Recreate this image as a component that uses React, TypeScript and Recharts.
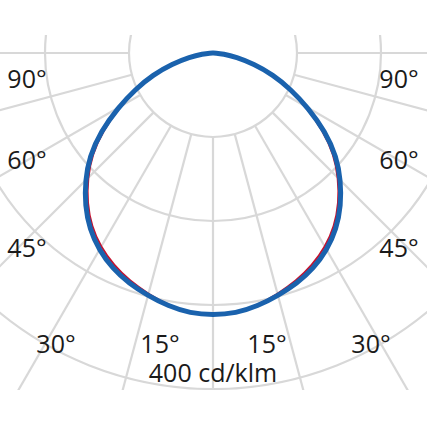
import { RadarChart, Radar, PolarGrid, PolarAngleAxis, PolarRadiusAxis, Curve } from 'recharts'

// gamma = angle from nadir (deg), one half plane, mirrored on both sides
const GAMMA = [0, 5, 10, 15, 20, 25, 30, 35, 40, 45, 50, 55, 60, 65, 70, 75, 80, 85, 90]
// cd/klm
const C0_C180 = [312, 311, 305, 297, 289, 279, 267, 252, 233, 211, 188, 159, 128, 99, 73, 48, 27, 11, 3]
const C90_C270 = [312, 311, 306, 299, 292, 283, 271, 256, 237, 215, 192, 163, 131, 102, 76, 50, 28, 12, 3]

const RINGS = [100, 200, 300, 400]
const GRID_GAMMA = [0, 15, 30, 45, 60, 75, 90]
const LEFT_LABELS = ['90°', '60°', '45°', '30°', '15°']
const RIGHT_LABELS = ['15°', '30°', '45°', '60°', '90°']
const UNIT_LABEL = '400 cd/klm'

const W = 427
const H = 427
const CX = 213
const CY = 53
const INNER_R = 84
const OUTER_R = 420
const R_MIN = 100
const R_MAX = 500
const PX = (OUTER_R - INNER_R) / (R_MAX - R_MIN)

// text positions (center x, baseline y)
const LEFT_POS = [[27, 88], [27, 169], [27, 257], [56, 353], [160, 353]]
const RIGHT_POS = [[267, 353], [371, 353], [399, 257], [399, 169], [399, 88]]

// full circle, 5deg steps: angle 0 = nadir, growing to the left
const data: { angle: number; c0: number; c90: number }[] = []
for (let a = 0; a < 360; a += 5) {
    const g = Math.min(a, 360 - a)
    const i = GAMMA.indexOf(g)
    data.push({ angle: a, c0: i >= 0 ? C0_C180[i] : 0, c90: i >= 0 ? C90_C270[i] : 0 })
}

const gridAngles = Array.from(new Set(GRID_GAMMA.flatMap(g => [270 - g, 270 + g])))
const gridRadius = RINGS.map(v => INNER_R + (v - R_MIN) * PX)

const textStyle = { fontFamily: '"Open Sans", sans-serif', fontSize: 25, fill: '#1a1a1a' }

// smooth closed curve through the points recharts computed
const smoothShape = (color: string, width: number) => (props: any) => {
    const pts = (props.points || []).map((p: any) => ({ x: p.x, y: p.y }))
    return <Curve type="basisClosed" points={pts} stroke={color} strokeWidth={width} fill="none" strokeLinejoin="round" />
}

export default function App() {
    return (
        <div style={{ position: 'absolute', left: 0, top: 0, width: W, height: H, background: '#fff' }}>
            <div style={{ position: 'absolute', left: 0, top: 0, clipPath: 'inset(35px 0px 37px 0px)' }}>
                <RadarChart
                    width={W}
                    height={H}
                    data={data}
                    cx={CX}
                    cy={CY}
                    innerRadius={INNER_R}
                    outerRadius={OUTER_R}
                    startAngle={270}
                    endAngle={-90}
                    margin={{ top: 0, right: 0, bottom: 0, left: 0 }}
                >
                    <PolarGrid
                        gridType="circle"
                        polarAngles={gridAngles}
                        polarRadius={gridRadius}
                        stroke="#d8d8d8"
                        strokeWidth={2.2}
                    />
                    <PolarAngleAxis dataKey="angle" type="number" domain={[0, 360]} tick={false} axisLine={false} tickLine={false} />
                    <PolarRadiusAxis domain={[R_MIN, R_MAX]} allowDataOverflow tick={false} axisLine={false} />
                    <Radar dataKey="c0" stroke="#c4122f" strokeWidth={2} fill="none" fillOpacity={0} dot={false}
                        shape={smoothShape('#c4122f', 2)} isAnimationActive={false} />
                    <Radar dataKey="c90" stroke="#1a62ad" strokeWidth={5} fill="none" fillOpacity={0} dot={false}
                        shape={smoothShape('#1a62ad', 5)} isAnimationActive={false} />
                </RadarChart>
            </div>
            <svg width={W} height={H} style={{ position: 'absolute', left: 0, top: 0 }}>
                {LEFT_LABELS.map((t, i) => (
                    <text key={`l-${i}`} x={LEFT_POS[i][0]} y={LEFT_POS[i][1]} textAnchor="middle" style={textStyle}>{t}</text>
                ))}
                {RIGHT_LABELS.map((t, i) => (
                    <text key={`r-${i}`} x={RIGHT_POS[i][0]} y={RIGHT_POS[i][1]} textAnchor="middle" style={textStyle}>{t}</text>
                ))}
                <text x={213} y={382} textAnchor="middle" style={textStyle}>{UNIT_LABEL}</text>
            </svg>
        </div>
    )
}
